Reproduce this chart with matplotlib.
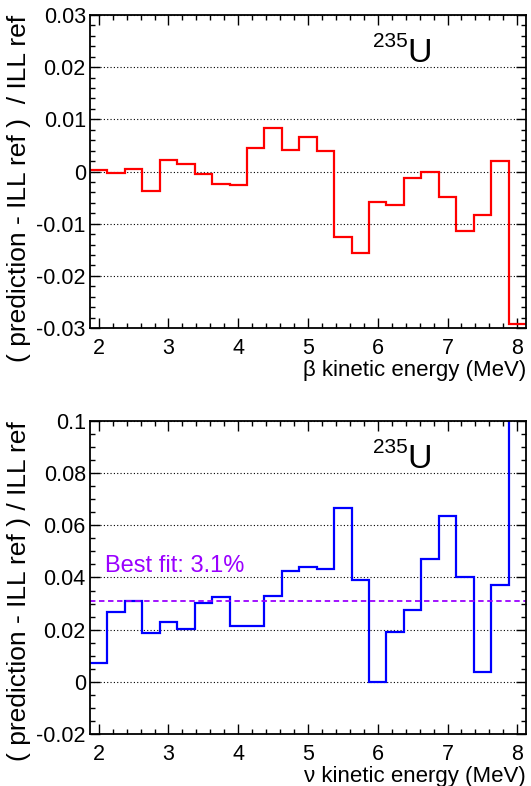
import matplotlib
matplotlib.use('Agg')
import matplotlib.pyplot as plt
from matplotlib.ticker import MultipleLocator
import numpy as np

plt.rcParams['font.family'] = ['Liberation Sans', 'DejaVu Sans']

# bin centres (MeV), bin width 0.25
centers = np.arange(2.0, 8.01, 0.25)
bw = 0.25

# beta spectrum: (prediction - ILL ref) / ILL ref
beta_vals = [0.0003, -0.0003, 0.0005, -0.0037, 0.0023, 0.0015, -0.0005, -0.0023,
             -0.0025, 0.0046, 0.0084, 0.0041, 0.0067, 0.0040, -0.0126, -0.0157,
             -0.0059, -0.0064, -0.0013, -0.0001, -0.0048, -0.0114, -0.0084, 0.0020,
             -0.0293]

# neutrino spectrum: (prediction - ILL ref) / ILL ref
nu_vals = [0.0072, 0.0266, 0.0308, 0.0187, 0.0230, 0.0204, 0.0302, 0.0327,
           0.0215, 0.0213, 0.0328, 0.0424, 0.0440, 0.0432, 0.0665, 0.0391,
           0.0000, 0.0190, 0.0275, 0.0471, 0.0636, 0.0401, 0.0037, 0.0373,
           0.1100]

best_fit = 0.031
ylabel = '( prediction - ILL ref )  / ILL ref'
ylabel2 = '( prediction - ILL ref ) / ILL ref'

edges = np.append(centers - bw / 2, centers[-1] + bw / 2)

fig = plt.figure(figsize=(5.31, 7.86), dpi=100)
ax1 = fig.add_axes([0.1695, 0.5827, 0.8211, 0.3982])
ax2 = fig.add_axes([0.1695, 0.0662, 0.8211, 0.3982])

def style(ax, ymin, ymax, major, minor, xlabel):
    ax.set_xlim(edges[0], edges[-1])
    ax.set_ylim(ymin, ymax)
    ax.xaxis.set_major_locator(MultipleLocator(1))
    ax.xaxis.set_minor_locator(MultipleLocator(0.2))
    ax.yaxis.set_major_locator(MultipleLocator(major))
    ax.yaxis.set_minor_locator(MultipleLocator(minor))
    ax.tick_params(which='both', direction='in', top=True, right=True,
                   labelsize=15.5, width=1)
    ax.tick_params(which='major', length=7)
    ax.tick_params(which='minor', length=3.5)
    ax.tick_params(axis='x', pad=7)
    ax.tick_params(axis='y', pad=3)
    ax.yaxis.grid(True, which='major', color='black', linestyle=(0, (1, 2)),
                  linewidth=0.8)
    ax.set_axisbelow(True)
    for s in ax.spines.values():
        s.set_linewidth(1.3)
    ax.yaxis.set_major_formatter(matplotlib.ticker.FuncFormatter(
        lambda v, p: ('%g' % round(v, 4)) if abs(v) > 1e-9 else '0'))
    ax.text(1.0, -0.135, xlabel, transform=ax.transAxes, ha='right',
            va='center', fontsize=16)
    ax.text(0.648, 0.899, '235', transform=ax.transAxes, fontsize=15,
            ha='left', va='baseline')
    ax.text(0.727, 0.850, 'U', transform=ax.transAxes, fontsize=24.5,
            ha='left', va='baseline')

ax1.stairs(beta_vals, edges, color='#ff0000', linewidth=1.6, baseline=None)
style(ax1, -0.03, 0.03, 0.01, 0.002, 'β kinetic energy (MeV)')

ax2.stairs(nu_vals, edges, color='#0000ff', linewidth=1.6, baseline=None)
ax2.axhline(best_fit, color='#9a00ff', linestyle=(0, (3, 2)), linewidth=1.3)
ax2.text(2.09, 0.042, 'Best fit: 3.1%', color='#9a00ff', fontsize=17,
         ha='left', va='baseline')
style(ax2, -0.02, 0.1, 0.02, 0.005, 'ν kinetic energy (MeV)')

fig.text(0.036, 0.9809, ylabel, rotation=90, ha='center', va='top', fontsize=19)
fig.text(0.036, 0.4644, ylabel2, rotation=90, ha='center', va='top', fontsize=19)

fig.savefig('out.png', dpi=100)
